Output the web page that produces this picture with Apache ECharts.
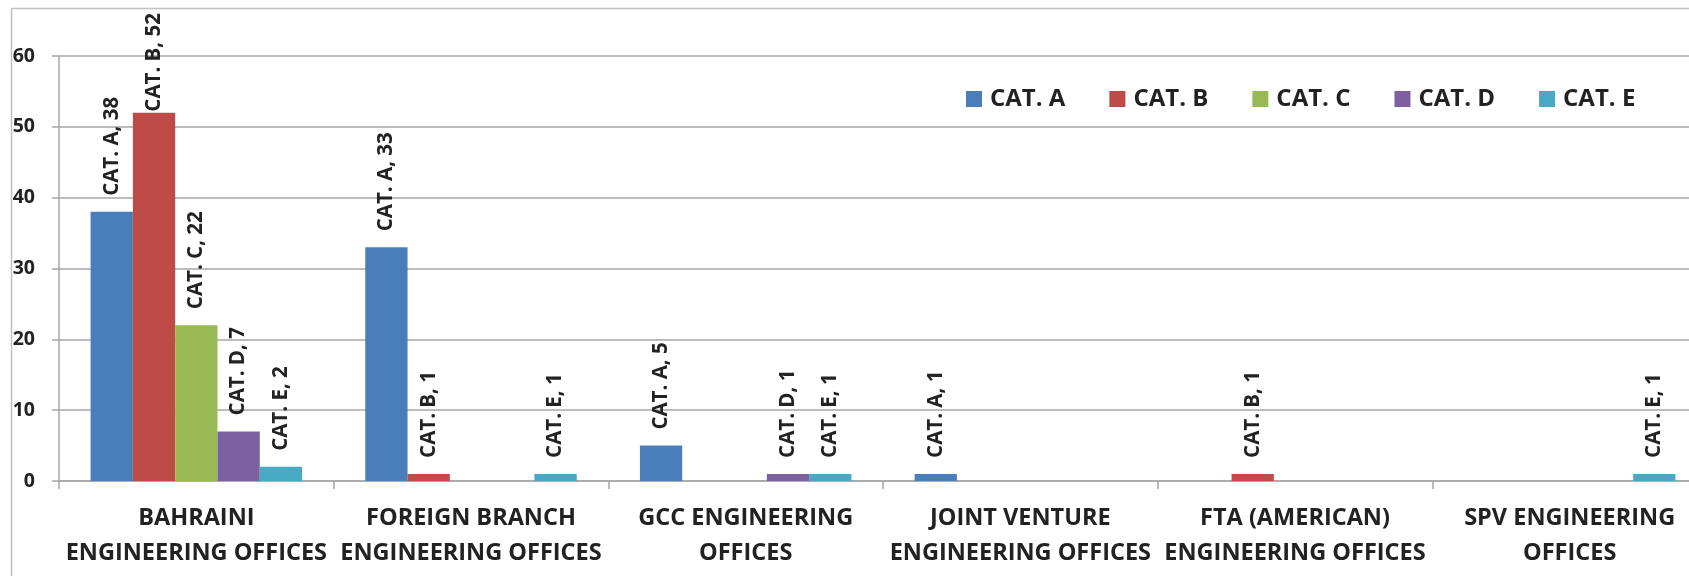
<!DOCTYPE html>
<html>
<head>
<meta charset="utf-8">
<script src="https://cdn.jsdelivr.net/npm/echarts@6/dist/echarts.min.js"></script>
<style>
html,body{margin:0;padding:0;background:#fff;}
#chart{width:1689px;height:576px;}
</style>
</head>
<body>
<div id="chart"></div>
<script>
const categories = [
  'BAHRAINI\nENGINEERING OFFICES',
  'FOREIGN BRANCH\nENGINEERING OFFICES',
  'GCC ENGINEERING\nOFFICES',
  'JOINT VENTURE\nENGINEERING OFFICES',
  'FTA (AMERICAN)\nENGINEERING OFFICES',
  'SPV ENGINEERING\nOFFICES'
];
const seriesNames = ['CAT. A', 'CAT. B', 'CAT. C', 'CAT. D', 'CAT. E'];
const catA = [38, 33, 5, 1, null, null];
const catB = [52, 1, null, null, 1, null];
const catC = [22, null, null, null, null, null];
const catD = [7, null, 1, null, null, null];
const catE = [2, 1, 1, null, null, 1];
const yMin = 0, yMax = 60, yStep = 10;

const values = [catA, catB, catC, catD, catE];
const colors = ['#4A7EBB', '#BE4B48', '#98B954', '#7D60A0', '#46AAC5'];
const FONT = "'Open Sans', sans-serif";
const TXT = '#222222';
// label pushed down near the top edge (series index, data index, distance)
const labelTweaks = { '1-0': 1 };

const series = seriesNames.map((name, si) => ({
  name: name,
  type: 'bar',
  barGap: '0%',
  barCategoryGap: '23%',
  itemStyle: { color: colors[si] },
  label: {
    show: true,
    position: 'top',
    rotate: 90,
    align: 'left',
    verticalAlign: 'middle',
    distance: 16,
    formatter: '{a}, {c}',
    fontFamily: FONT,
    fontWeight: 'bold',
    fontSize: 20.5,
    color: TXT
  },
  data: values[si].map((v, di) => {
    const key = si + '-' + di;
    if (v !== null && labelTweaks[key] !== undefined) {
      return { value: v, label: { distance: labelTweaks[key] } };
    }
    return v;
  })
}));

const chart = echarts.init(document.getElementById('chart'));
chart.setOption({
  animation: false,
  backgroundColor: '#ffffff',
  graphic: [{
    type: 'rect',
    left: 9, top: 6,
    shape: { x: 0, y: 0, width: 1720, height: 620 },
    style: { fill: 'none', stroke: '#c0c0c0', lineWidth: 1.5 },
    silent: true
  }],
  legend: {
    data: seriesNames,
    left: 961,
    top: 82,
    icon: 'rect',
    itemWidth: 16,
    itemHeight: 16,
    itemGap: 44,
    textStyle: { fontFamily: FONT, fontWeight: 'bold', fontSize: 24, color: TXT, padding: [0, 0, 0, 3] }
  },
  grid: { left: 59, top: 56, right: -18, height: 425, containLabel: false, outerBoundsMode: 'none' },
  xAxis: {
    type: 'category',
    data: categories,
    axisLine: { show: true, lineStyle: { color: '#a6a6a6', width: 1.5 } },
    axisTick: { show: true, length: 8, alignWithLabel: false, lineStyle: { color: '#a6a6a6', width: 1.5 } },
    axisLabel: {
      interval: 0,
      margin: 20,
      lineHeight: 35,
      fontFamily: FONT,
      fontWeight: 'bold',
      fontSize: 23.5,
      color: TXT
    }
  },
  yAxis: {
    type: 'value',
    min: yMin, max: yMax, interval: yStep,
    axisLine: { show: true, lineStyle: { color: '#a6a6a6', width: 1.5 } },
    axisTick: { show: true, length: 7, lineStyle: { color: '#a6a6a6', width: 1.5 } },
    splitLine: { show: true, lineStyle: { color: '#a6a6a6', width: 1.5 } },
    axisLabel: { margin: 24, fontFamily: FONT, fontWeight: 'bold', fontSize: 19.5, color: TXT }
  },
  series: series
});
</script>
</body>
</html>
